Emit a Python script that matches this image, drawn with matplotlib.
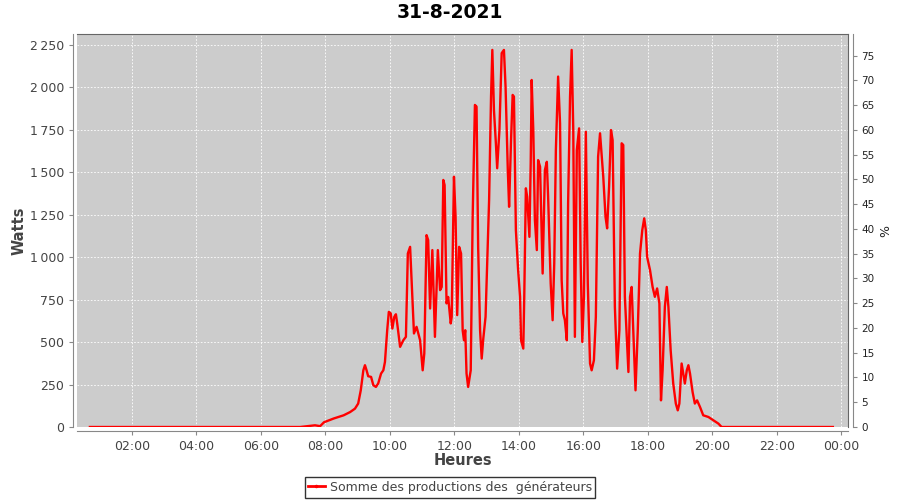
import matplotlib
matplotlib.use('Agg')
from matplotlib import pyplot as plt
import matplotlib.ticker as mticker
from matplotlib.lines import Line2D

# time of day (hours) and summed production (W)
heures = [0.70, 7.22, 7.68, 7.84, 7.96, 8.26, 8.57, 8.77, 8.92, 9.02,
          9.10, 9.18, 9.23, 9.28, 9.33, 9.42, 9.49, 9.57, 9.64, 9.73,
          9.80, 9.85, 9.92, 9.97, 10.03, 10.08, 10.14, 10.19, 10.23, 10.32,
          10.42, 10.50, 10.56, 10.63, 10.68, 10.75, 10.83, 10.94, 11.02, 11.07,
          11.14, 11.19, 11.25, 11.32, 11.40, 11.49, 11.56, 11.61, 11.66, 11.70,
          11.76, 11.81, 11.89, 11.92, 11.99, 12.04, 12.09, 12.15, 12.21, 12.26,
          12.30, 12.34, 12.38, 12.43, 12.51, 12.57, 12.64, 12.69, 12.74, 12.80,
          12.85, 12.90, 12.97, 13.08, 13.14, 13.18, 13.23, 13.29, 13.33, 13.40,
          13.47, 13.54, 13.59, 13.66, 13.70, 13.76, 13.81, 13.85, 13.91, 13.98,
          14.04, 14.07, 14.14, 14.17, 14.22, 14.26, 14.33, 14.37, 14.40, 14.45,
          14.50, 14.56, 14.60, 14.66, 14.74, 14.81, 14.87, 14.91, 14.99, 15.05,
          15.10, 15.15, 15.22, 15.28, 15.33, 15.38, 15.43, 15.49, 15.53, 15.59,
          15.64, 15.69, 15.74, 15.80, 15.87, 15.92, 15.97, 16.02, 16.08, 16.14,
          16.21, 16.26, 16.33, 16.39, 16.46, 16.52, 16.62, 16.69, 16.74, 16.80,
          16.86, 16.91, 16.98, 17.05, 17.12, 17.19, 17.24, 17.29, 17.40, 17.45,
          17.50, 17.55, 17.62, 17.69, 17.76, 17.83, 17.89, 17.94, 17.98, 18.07,
          18.15, 18.22, 18.29, 18.36, 18.41, 18.46, 18.53, 18.59, 18.64, 18.71,
          18.79, 18.87, 18.93, 18.98, 19.05, 19.10, 19.15, 19.21, 19.26, 19.31,
          19.39, 19.46, 19.53, 19.62, 19.72, 19.88, 20.03, 20.19, 20.29, 23.74]
watts = [0, 0, 10, 5, 28, 50, 69, 88, 108, 138,
         216, 334, 364, 334, 299, 295, 246, 236, 256, 315,
         334, 383, 570, 678, 669, 580, 649, 664, 610, 472,
         511, 531, 1022, 1061, 847, 551, 590, 511, 334, 433,
         1130, 1101, 698, 1042, 531, 1042, 806, 825, 1455, 1425,
         728, 766, 610, 649, 1474, 1238, 659, 1061, 1022, 570,
         511, 570, 315, 236, 334, 1238, 1897, 1887, 1061, 570,
         403, 521, 649, 1337, 1946, 2221, 1867, 1671, 1524, 1749,
         2202, 2221, 2005, 1513, 1297, 1690, 1956, 1946, 1160, 924,
         767, 511, 462, 767, 1406, 1356, 1120, 1553, 2044, 1749,
         1219, 1042, 1572, 1533, 904, 1513, 1562, 1356, 845, 629,
         963, 1631, 2064, 1789, 865, 669, 629, 511, 1317, 1946,
         2221, 1749, 531, 1631, 1759, 963, 501, 767, 1739, 845,
         374, 334, 393, 649, 1592, 1730, 1474, 1238, 1170, 1415,
         1749, 1690, 708, 344, 570, 1671, 1661, 767, 324, 767,
         825, 570, 216, 570, 1022, 1160, 1229, 1160, 1002, 924,
         825, 767, 816, 728, 157, 334, 708, 825, 708, 452,
         256, 138, 98, 138, 374, 315, 256, 334, 364, 315,
         206, 138, 157, 118, 69, 59, 40, 20, 0, 0]

watts_ticks = [0, 250, 500, 750, 1000, 1250, 1500, 1750, 2000, 2250]
pct_ticks = list(range(0, 80, 5))
heure_ticks = [2, 4, 6, 8, 10, 12, 14, 16, 18, 20, 22, 24]

gris_txt = '#444444'

fig = plt.figure(figsize=(9, 5), dpi=100)
ax = fig.add_axes([0.0859, 0.146, 0.8567, 0.7854])
ax.set_facecolor('#cccccc')

ax.plot(heures, watts, color='red', lw=1.7, solid_joinstyle='round')

ax.set_xlim(0.31, 24.22)
ax.set_ylim(0, 2313)
ax.set_xticks(heure_ticks)
ax.set_xticklabels(['%02d:00' % (h % 24) for h in heure_ticks])
ax.set_yticks(watts_ticks)
ax.yaxis.set_major_formatter(mticker.FuncFormatter(
    lambda v, p: '{:,}'.format(int(v)).replace(',', '\u202f')))

ax.grid(True, color='white', linestyle=(0, (2, 2)), linewidth=0.6)
ax.set_axisbelow(True)

for s in ['top', 'right']:
    ax.spines[s].set_color('#666666')
ax.spines['left'].set_position(('outward', 3))
ax.spines['bottom'].set_position(('outward', 3))
ax.spines['left'].set_color('#888888')
ax.spines['bottom'].set_color('#888888')
ax.tick_params(axis='both', colors='#888888', labelcolor=gris_txt,
               labelsize=9, length=3, width=0.8)

ax.set_xlabel('Heures', fontsize=10.5, fontweight='bold', color=gris_txt, labelpad=0)
ax.set_ylabel('Watts', fontsize=10.5, fontweight='bold', color=gris_txt, labelpad=2)

ax2 = ax.twinx()
ax2.set_ylim(0, 79.3)
ax2.set_yticks(pct_ticks)
ax2.spines['right'].set_position(('outward', 3))
ax2.spines['right'].set_color('#888888')
for s in ['top', 'left', 'bottom']:
    ax2.spines[s].set_visible(False)
ax2.tick_params(axis='y', colors='#888888', labelcolor='#222222',
                labelsize=7.5, length=3, width=0.8)
ax2.set_ylabel('%', fontsize=9, color='#222222', labelpad=3)

fig.suptitle('31-8-2021', fontsize=13.5, fontweight='bold', y=0.995)

handle = Line2D([], [], color='red', lw=2, marker='.', markersize=3)
leg = fig.legend([handle], ['Somme des productions des  générateurs'],
                 loc='lower center', bbox_to_anchor=(0.5, 0.0), fontsize=9,
                 frameon=True, fancybox=False, handlelength=1.3,
                 handletextpad=0.4, borderpad=0.3, borderaxespad=0.2)
leg.get_frame().set_edgecolor('black')
leg.get_frame().set_linewidth(1.0)
for t in leg.get_texts():
    t.set_color(gris_txt)

fig.savefig('out.png', dpi=100)
